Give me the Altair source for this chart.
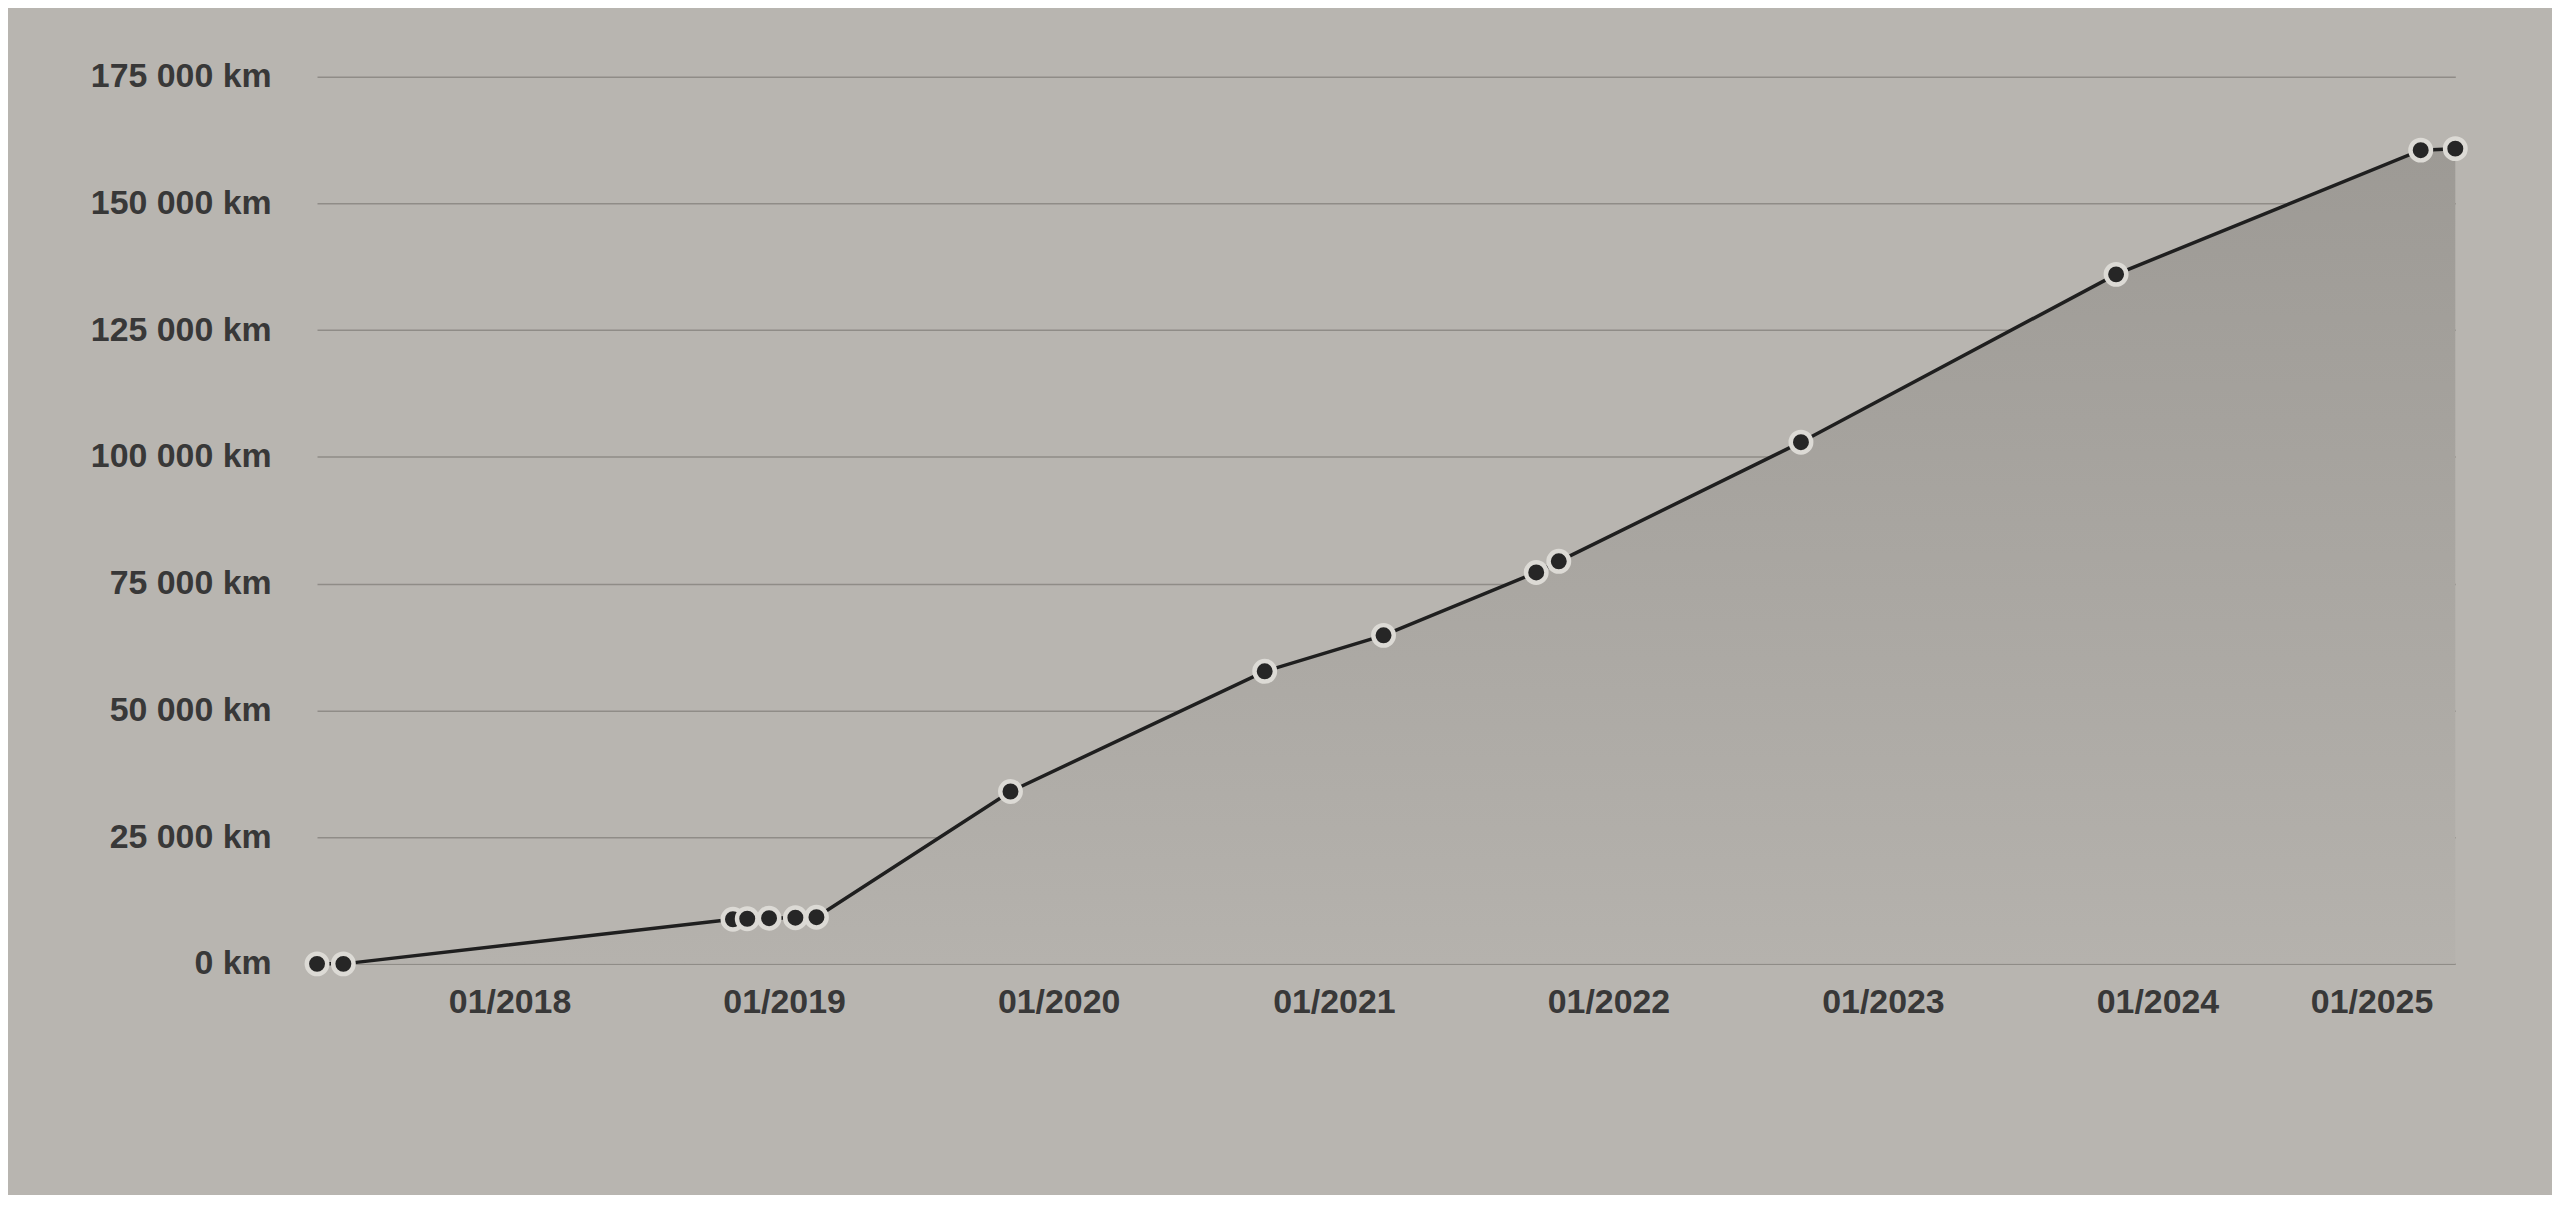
import altair as alt
import pandas as pd

# ---- data ----
dates = [
    "2017-04-20", "2017-05-25",
    "2018-10-25", "2018-11-13", "2018-12-12", "2019-01-16", "2019-02-13",
    "2019-10-29", "2020-10-01", "2021-03-08",
    "2021-09-27", "2021-10-27", "2022-09-14", "2023-11-07",
    "2024-12-16", "2025-01-31",
]
km = [
    0, 0,
    8800, 8900, 9000, 9100, 9200,
    34000, 57700, 64800,
    77200, 79400, 102900, 136000,
    160500, 160800,
]
tick_years = [2018, 2019, 2020, 2021, 2022, 2023, 2024, 2025]
y_ticks = [0, 25000, 50000, 75000, 100000, 125000, 150000, 175000]

df = pd.DataFrame({"date": dates, "km": km})

FONT = "Liberation Sans"
LABEL_COLOR = "#383838"
BG = "#b8b5b0"

x_enc = alt.X(
    "date:T",
    scale=alt.Scale(nice=False),
    axis=alt.Axis(
        values=[alt.DateTime(year=y, month=1, date=1) for y in tick_years],
        format="%m/%Y",
        title=None,
        grid=False,
        domain=False,
        ticks=False,
        labelFont=FONT,
        labelFontSize=34,
        labelFontWeight="bold",
        labelColor=LABEL_COLOR,
        labelPadding=22,
        labelFlush=60,
        labelLimit=400,
    ),
)
y_enc = alt.Y(
    "km:Q",
    scale=alt.Scale(domain=[0, 175000], nice=False),
    axis=alt.Axis(
        values=y_ticks,
        labelExpr="replace(format(datum.value, ','), ',', ' ') + ' km'",
        title=None,
        grid=True,
        gridColor="#8f8c87",
        gridWidth=1.5,
        domain=False,
        ticks=False,
        labelFont=FONT,
        labelFontSize=34,
        labelFontWeight="bold",
        labelColor=LABEL_COLOR,
        labelPadding=46,
        labelLimit=400,
    ),
)

base = alt.Chart(df).encode(x=x_enc, y=y_enc)

area = base.mark_area(
    color=alt.Gradient(
        gradient="linear",
        stops=[
            alt.GradientStop(color="#9d9a95", offset=0),
            alt.GradientStop(color="#b5b2ad", offset=1),
        ],
        x1=0, x2=0, y1=0, y2=1,
    ),
    opacity=1,
)
line = base.mark_line(color="#1f1f1f", strokeWidth=3.5)
points = base.mark_circle(
    size=420,
    fill="#262626",
    stroke="#dcdad5",
    strokeWidth=4.5,
    opacity=1,
    fillOpacity=1,
    strokeOpacity=1,
)

chart = (
    alt.layer(area, line, points)
    .properties(
        width=2145,
        height=890,
        background=BG,
        autosize=alt.AutoSizeParams(type="none"),
        padding={"left": 310, "top": 67, "right": 97, "bottom": 230},
    )
    .configure_view(stroke=None)
)

chart.save("out.html", embed_options={"renderer": "svg", "actions": False})
